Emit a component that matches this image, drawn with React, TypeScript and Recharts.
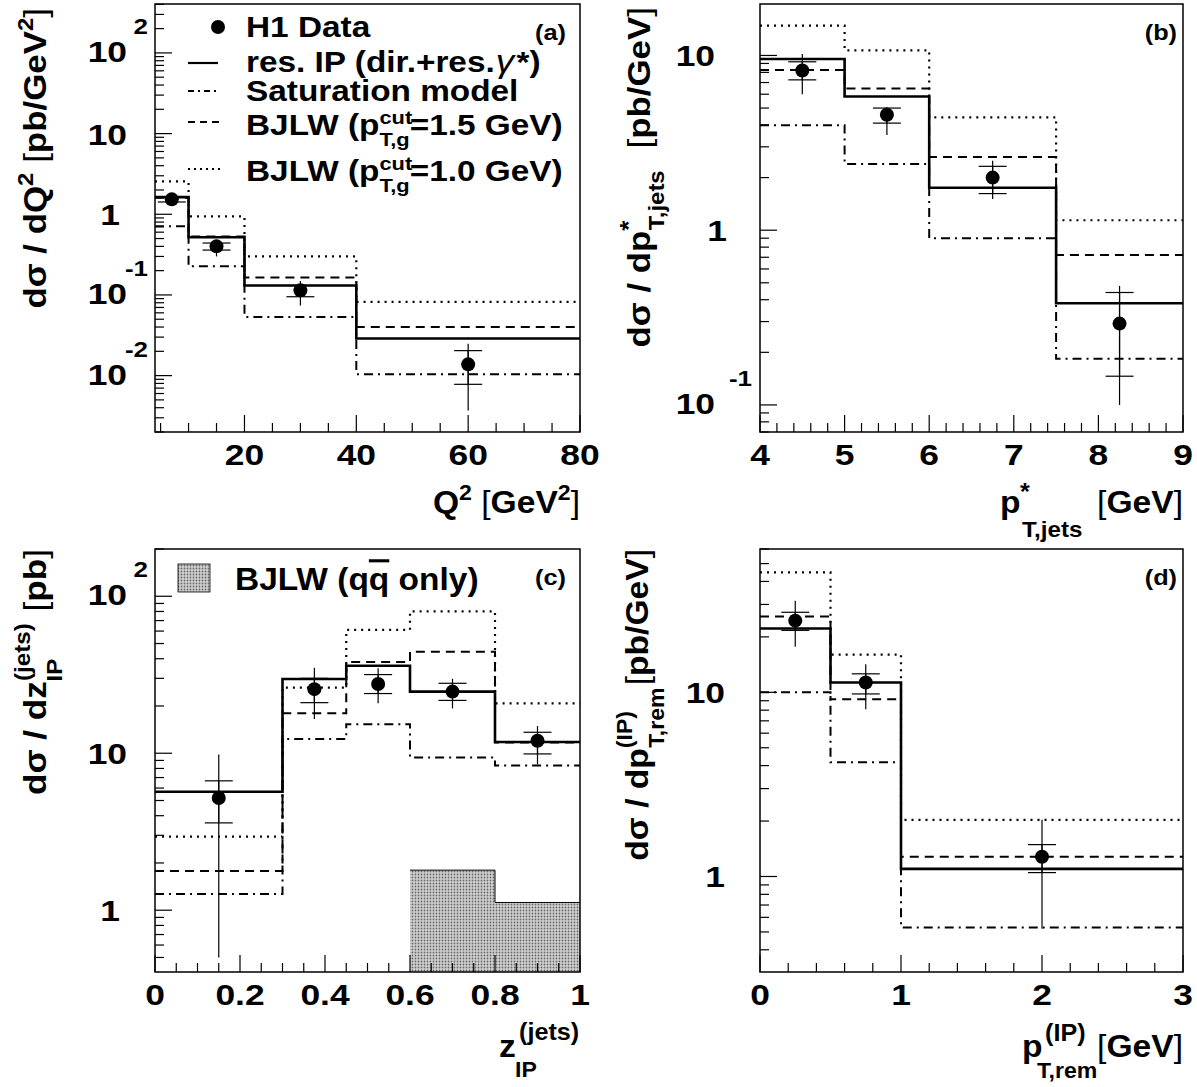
import { Area, ComposedChart, ErrorBar, Line, ReferenceArea, Scatter, XAxis, YAxis } from "recharts";

const FONT = '"Liberation Sans", Arial, Helvetica, sans-serif';

// ---- (a) dsigma / dQ^2 ----
const q2Edges = [4, 10, 20, 40, 80];
const q2ResIP = [1.63, 0.52, 0.131, 0.0288];
const q2Sat = [0.71, 0.226, 0.0534, 0.0104];
const q2Bjlw15 = [1.6, 0.53, 0.165, 0.04];
const q2Bjlw10 = [2.55, 0.94, 0.3, 0.082];
const q2X = [7, 15, 30, 60];
const q2Y = [1.53, 0.4, 0.114, 0.0138];
const q2StatLo = [1.42, 0.36, 0.095, 0.0078];
const q2StatHi = [1.65, 0.44, 0.131, 0.0204];
const q2TotLo = [1.27, 0.3, 0.074, 0.0037];
const q2TotHi = [1.8, 0.47, 0.149, 0.0248];

// ---- (b) dsigma / dp*T,jets ----
const ptEdges = [4, 5, 6, 7.5, 9];
const ptResIP = [9.55, 5.82, 1.75, 0.382];
const ptSat = [3.99, 2.39, 0.9, 0.184];
const ptBjlw15 = [8.25, 6.46, 2.62, 0.72];
const ptBjlw10 = [14.8, 10.7, 4.42, 1.14];
const ptX = [4.5, 5.5, 6.75, 8.25];
const ptY = [8.2, 4.58, 2.0, 0.292];
const ptStatLo = [7.25, 4.1, 1.62, 0.146];
const ptStatHi = [9.2, 5.0, 2.32, 0.44];
const ptTotLo = [6.0, 3.51, 1.51, 0.1];
const ptTotHi = [10.2, 5.06, 2.5, 0.48];

// ---- (c) dsigma / dz_IP ----
const zEdges = [0, 0.3, 0.45, 0.6, 0.8, 1.0];
const zResIP = [5.69, 29.7, 36.1, 24.7, 11.8];
const zSat = [1.27, 12.3, 15.3, 9.4, 8.36];
const zBjlw15 = [1.78, 18.0, 38.1, 44.3, 11.7];
const zBjlw10 = [2.94, 26.2, 61.1, 80.2, 20.8];
const zQQbar = [null, null, null, 1.8, 1.12];
const zX = [0.15, 0.375, 0.525, 0.7, 0.9];
const zY = [5.19, 25.6, 27.6, 24.7, 12.0];
const zStatLo = [3.6, 21, 24.0, 21.7, 9.9];
const zStatHi = [6.67, 30, 31.7, 27.9, 13.6];
const zTotLo = [0.5, 16.5, 20.8, 19.3, 8.5];
const zTotHi = [9.8, 35, 34.8, 29.8, 14.9];

// ---- (d) dsigma / dpT,rem ----
const remEdges = [0, 0.5, 1, 3];
const remResIP = [22.2, 11.3, 1.1];
const remSat = [10.0, 4.17, 0.528];
const remBjlw15 = [25.8, 9.16, 1.28];
const remBjlw10 = [44.8, 16.0, 2.03];
const remX = [0.25, 0.75, 2];
const remY = [24.5, 11.3, 1.28];
const remStatLo = [21.7, 9.8, 1.05];
const remStatHi = [27.2, 12.6, 1.49];
const remTotLo = [17.7, 8.1, 0.52];
const remTotHi = [31.4, 14.2, 2.03];

// histogram rows: one row per bin edge, last edge repeats the last bin
function histRows(edges: number[], series: Record<string, (number | null)[]>) {
  return edges.map((x, i) => {
    const row: any = { x };
    for (const k in series) {
      const v = series[k][Math.min(i, edges.length - 2)];
      row[k] = v == null ? undefined : v;
    }
    return row;
  });
}

function pointRows(x: number[], y: number[], sLo: number[], sHi: number[], tLo: number[], tHi: number[]) {
  return x.map((xx, i) => ({
    x: xx,
    y: y[i],
    stat: [y[i] - sLo[i], sHi[i] - y[i]],
    tot: [y[i] - tLo[i], tHi[i] - y[i]],
  }));
}

function logTicks(lo: number, hi: number) {
  const t: number[] = [];
  for (let e = -4; e <= 3; e++)
    for (let m = 1; m <= 9; m++) {
      const v = Number((m * Math.pow(10, e)).toPrecision(6));
      if (v >= lo && v <= hi) t.push(v);
    }
  return t;
}

function linTicks(lo: number, hi: number, step: number) {
  const t: number[] = [];
  const n = Math.round((hi - lo) / step);
  for (let i = 0; i <= n; i++) t.push(Math.round((lo + i * step) * 1000) / 1000);
  return t;
}

// ROOT's Helvetica-bold is wider than Liberation Sans, so texts get stretched along their run
function ST(props: any) {
  const { x, y, sx = 1.15, rot, anchor = "start", size = 30, children, weight = "bold" } = props;
  const tf = `translate(${x},${y})${rot ? " rotate(-90)" : ""} scale(${sx},1)`;
  return (
    <text transform={tf} x={0} y={0} textAnchor={anchor} fontFamily={FONT} fontWeight={weight} fontSize={size} fill="#000">
      {children}
    </text>
  );
}

function XTick(props: any) {
  const { x, y, payload, majors } = props;
  const v = payload.value as number;
  const major = majors.some((m: number) => Math.abs(m - v) < 1e-9);
  return (
    <g>
      <line x1={x} x2={x} y1={y} y2={y - (major ? 17 : 9)} stroke="#000" strokeWidth={1.2} />
      {major && (
        <ST x={x} y={y + 33} anchor="middle" size={30} sx={1.18}>
          {String(Math.round(v * 100) / 100)}
        </ST>
      )}
    </g>
  );
}

function YTick(props: any) {
  const { x, y, payload, cfg } = props;
  const v = payload.value as number;
  const lg = Math.log10(v);
  const e = Math.round(lg);
  const major = Math.abs(lg - e) < 1e-6;
  return (
    <g>
      <line x1={x} x2={x + (major ? 17 : 9)} y1={y} y2={y} stroke="#000" strokeWidth={1.2} />
      {major && e === 0 && <ST x={x - cfg.one} y={y + 11} anchor="end" sx={1.18}>1</ST>}
      {major && e === 1 && <ST x={x - cfg.ten} y={y + 11} anchor="end" sx={1.18}>10</ST>}
      {major && e !== 0 && e !== 1 && (
        <g>
          <ST x={x - cfg.ten} y={y + 9} anchor="end" sx={1.18}>10</ST>
          <ST x={x - cfg.exp} y={y - 19} anchor="end" size={22} sx={1.18}>{String(e)}</ST>
        </g>
      )}
    </g>
  );
}

type PanelProps = {
  left: number; top: number; width: number; height: number;
  yAxisW: number; mTop: number; mRight: number; xAxisH: number;
  xDomain: [number, number]; yDomain: [number, number];
  xTicks: number[]; xMajors: number[];
  yCfg: { ten: number; one: number; exp: number };
  rows: any[]; points: any[]; qq?: boolean;
};

function Panel(p: PanelProps) {
  const pid = "stip" + p.left + "_" + p.top;
  return (
    <div style={{ position: "absolute", left: p.left, top: p.top }}>
      <ComposedChart width={p.width} height={p.height} data={p.rows}
        margin={{ top: p.mTop, right: p.mRight, bottom: 0, left: 0 }}>
        <defs>
          <pattern id={pid} width={3} height={3} patternUnits="userSpaceOnUse">
            <rect width={3} height={3} fill="#d2d2d2" />
            <circle cx={1.5} cy={1.5} r={0.9} fill="#666" />
          </pattern>
        </defs>
        <XAxis dataKey="x" type="number" domain={p.xDomain} allowDataOverflow ticks={p.xTicks} interval={0}
          tickSize={0} tickMargin={0} tickLine={false} axisLine={false} height={p.xAxisH}
          tick={(tp: any) => <XTick {...tp} majors={p.xMajors} />} />
        <YAxis type="number" scale="log" domain={p.yDomain} allowDataOverflow ticks={logTicks(p.yDomain[0], p.yDomain[1])}
          interval={0} tickSize={0} tickMargin={0} tickLine={false} axisLine={false} width={p.yAxisW}
          tick={(tp: any) => <YTick {...tp} cfg={p.yCfg} />} />
        {p.qq && (
          <Area dataKey="qq" type="stepAfter" stroke="#000" strokeWidth={1} fill={`url(#${pid})`}
            fillOpacity={1} baseValue="dataMin" isAnimationActive={false} dot={false} activeDot={false} />
        )}
        <Line dataKey="bjlw10" type="stepAfter" stroke="#000" strokeWidth={2.2} strokeDasharray="2 5"
          dot={false} activeDot={false} isAnimationActive={false} />
        <Line dataKey="sat" type="stepAfter" stroke="#000" strokeWidth={2} strokeDasharray="9 5 2 5"
          dot={false} activeDot={false} isAnimationActive={false} />
        <Line dataKey="bjlw15" type="stepAfter" stroke="#000" strokeWidth={2} strokeDasharray="9 6"
          dot={false} activeDot={false} isAnimationActive={false} />
        <Line dataKey="resIP" type="stepAfter" stroke="#000" strokeWidth={2.6}
          dot={false} activeDot={false} isAnimationActive={false} />
        <Scatter data={p.points} dataKey="y" fill="#000" isAnimationActive={false}
          shape={(sp: any) => <circle cx={sp.cx} cy={sp.cy} r={7} fill="#000" />}>
          <ErrorBar dataKey="tot" direction="y" width={0} stroke="#000" strokeWidth={1.2} />
          <ErrorBar dataKey="stat" direction="y" width={14} stroke="#000" strokeWidth={1.2} />
        </Scatter>
        <ReferenceArea x1={p.xDomain[0]} x2={p.xDomain[1]} y1={p.yDomain[0]} y2={p.yDomain[1]}
          fill="none" fillOpacity={0} stroke="#000" strokeWidth={1.5} ifOverflow="visible" />
      </ComposedChart>
    </div>
  );
}

function Overlay() {
  const cutSub = (val: string) => (
    <>
      BJLW (p<tspan dy={-11} fontSize={19}>cut</tspan>
      <tspan dx={-28.5} dy={22} fontSize={19}>T,g</tspan>
      <tspan dy={-11}>={val} GeV)</tspan>
    </>
  );
  return (
    <svg width={1197} height={1087} style={{ position: "absolute", left: 0, top: 0, pointerEvents: "none" }}>
      <defs>
        <pattern id="legstip" width={3} height={3} patternUnits="userSpaceOnUse">
          <rect width={3} height={3} fill="#d2d2d2" />
          <circle cx={1.5} cy={1.5} r={0.9} fill="#666" />
        </pattern>
      </defs>

      {/* legend (a) */}
      <circle cx={218} cy={27} r={7} fill="#000" />
      <ST x={246} y={37} size={29}>H1 Data</ST>
      <line x1={188} x2={218} y1={63} y2={63} stroke="#000" strokeWidth={2.2} />
      <ST x={246} y={72} size={29}>
        res. IP (dir.+res.<tspan fontWeight="normal" fontStyle="italic" fontSize={32} dx={1}>γ</tspan>
        <tspan dx={2}>*)</tspan>
      </ST>
      <line x1={188} x2={220} y1={91} y2={91} stroke="#000" strokeWidth={2} strokeDasharray="6 4 2 4" />
      <ST x={246} y={101} size={29}>Saturation model</ST>
      <line x1={188} x2={220} y1={122} y2={122} stroke="#000" strokeWidth={2} strokeDasharray="7 5" />
      <ST x={246} y={135} size={29}>{cutSub("1.5")}</ST>
      <line x1={188} x2={220} y1={169} y2={169} stroke="#000" strokeWidth={2} strokeDasharray="2 4" />
      <ST x={246} y={181} size={29}>{cutSub("1.0")}</ST>

      {/* legend (c) */}
      <rect x={178} y={564} width={32} height={28} fill="url(#legstip)" stroke="#000" strokeWidth={0.8} />
      <ST x={235} y={590} size={31} sx={1.08}>
        BJLW (q<tspan style={{ textDecoration: "overline" }}>q</tspan> only)
      </ST>

      {/* panel tags */}
      <ST x={566} y={40} size={22} anchor="end">(a)</ST>
      <ST x={1177} y={40} size={22} anchor="end">(b)</ST>
      <ST x={566} y={585} size={22} anchor="end">(c)</ST>
      <ST x={1177} y={585} size={22} anchor="end">(d)</ST>

      {/* axis titles (a) */}
      <ST x={580} y={513} size={32} anchor="end" sx={1.05}>
        Q<tspan dy={-13} fontSize={22}>2</tspan><tspan dy={13}> </tspan>
        <tspan fontWeight="normal">[</tspan>GeV<tspan dy={-13} fontSize={22}>2</tspan>
        <tspan dy={13} fontWeight="normal">]</tspan>
      </ST>
      <ST x={46} y={8} rot size={32} anchor="end" sx={1.09}>
        dσ / dQ<tspan dy={-13} fontSize={22}>2</tspan><tspan dy={13}> </tspan>
        <tspan fontWeight="normal">[</tspan>pb/GeV<tspan dy={-13} fontSize={22}>2</tspan>
        <tspan dy={13} fontWeight="normal">]</tspan>
      </ST>

      {/* axis titles (b) */}
      <ST x={1000} y={513} size={32} sx={1.05}>p</ST>
      <ST x={1020} y={500} size={24} sx={1.05}>*</ST>
      <ST x={1022} y={537} size={22} sx={1.1}>T,jets</ST>
      <ST x={1183} y={513} size={32} anchor="end" sx={1.05}>
        <tspan fontWeight="normal">[</tspan>GeV<tspan fontWeight="normal">]</tspan>
      </ST>
      <ST x={650} y={7} rot size={32} anchor="end" sx={1.09}>
        dσ / dp<tspan dy={-13} fontSize={24}>*</tspan>
        <tspan dx={-9} dy={27} fontSize={22}>T,jets</tspan>
        <tspan dx={20} dy={-14} fontWeight="normal">[</tspan>pb/GeV<tspan fontWeight="normal">]</tspan>
      </ST>

      {/* axis titles (c) */}
      <ST x={499} y={1057} size={32} sx={1.05}>z</ST>
      <ST x={519} y={1040} size={24} sx={1.05}>(jets)</ST>
      <ST x={515} y={1077} size={22} sx={1.05}>IP</ST>
      <ST x={46} y={549} rot size={32} anchor="end" sx={1.1}>
        dσ / dz<tspan dy={-16} fontSize={22}>(jets)</tspan>
        <tspan dx={-53} dy={32} fontSize={22}>IP</tspan>
        <tspan dx={34} dy={-16}> </tspan><tspan fontWeight="normal">[</tspan>pb<tspan fontWeight="normal">]</tspan>
      </ST>

      {/* axis titles (d) */}
      <ST x={1022} y={1057} size={32} sx={1.05}>p</ST>
      <ST x={1045} y={1041} size={24} sx={1.05}>(IP)</ST>
      <ST x={1037} y={1078} size={22} sx={1.05}>T,rem</ST>
      <ST x={1183} y={1057} size={32} anchor="end" sx={1.05}>
        <tspan fontWeight="normal">[</tspan>GeV<tspan fontWeight="normal">]</tspan>
      </ST>
      <ST x={648} y={549} rot size={32} anchor="end" sx={1.05}>
        dσ / dp<tspan dy={-16} fontSize={22}>(IP)</tspan>
        <tspan dx={-35} dy={32} fontSize={22}>T,rem</tspan>
        <tspan dx={2} dy={-16} fontWeight="normal">[</tspan>pb/GeV<tspan fontWeight="normal">]</tspan>
      </ST>
    </svg>
  );
}

export default function App() {
  const rowsA = histRows(q2Edges, { resIP: q2ResIP, sat: q2Sat, bjlw15: q2Bjlw15, bjlw10: q2Bjlw10 });
  const rowsB = histRows(ptEdges, { resIP: ptResIP, sat: ptSat, bjlw15: ptBjlw15, bjlw10: ptBjlw10 });
  const rowsC = histRows(zEdges, { resIP: zResIP, sat: zSat, bjlw15: zBjlw15, bjlw10: zBjlw10, qq: zQQbar });
  const rowsD = histRows(remEdges, { resIP: remResIP, sat: remSat, bjlw15: remBjlw15, bjlw10: remBjlw10 });

  return (
    <div style={{ position: "absolute", left: 0, top: 0, width: 1197, height: 1087, background: "#fff" }}>
      <Panel left={0} top={0} width={600} height={540} yAxisW={155} mTop={4} mRight={20} xAxisH={108}
        xDomain={[4, 80]} yDomain={[0.002, 404]} xTicks={linTicks(5, 80, 5)} xMajors={[20, 40, 60, 80]}
        yCfg={{ ten: 28, one: 35, exp: 7 }} rows={rowsA}
        points={pointRows(q2X, q2Y, q2StatLo, q2StatHi, q2TotLo, q2TotHi)} />
      <Panel left={600} top={0} width={597} height={540} yAxisW={160} mTop={4} mRight={14} xAxisH={108}
        xDomain={[4, 9]} yDomain={[0.07, 19.7]} xTicks={linTicks(4, 9, 0.2)} xMajors={[4, 5, 6, 7, 8, 9]}
        yCfg={{ ten: 45, one: 33, exp: 8 }} rows={rowsB}
        points={pointRows(ptX, ptY, ptStatLo, ptStatHi, ptTotLo, ptTotHi)} />
      <Panel left={0} top={540} width={600} height={547} yAxisW={155} mTop={9} mRight={20} xAxisH={115}
        xDomain={[0, 1]} yDomain={[0.404, 200]} xTicks={linTicks(0, 1, 0.05)} xMajors={[0, 0.2, 0.4, 0.6, 0.8, 1]}
        yCfg={{ ten: 28, one: 35, exp: 7 }} rows={rowsC} qq
        points={pointRows(zX, zY, zStatLo, zStatHi, zTotLo, zTotHi)} />
      <Panel left={600} top={540} width={597} height={547} yAxisW={160} mTop={9} mRight={14} xAxisH={115}
        xDomain={[0, 3]} yDomain={[0.303, 60]} xTicks={linTicks(0, 3, 0.2)} xMajors={[0, 1, 2, 3]}
        yCfg={{ ten: 35, one: 35, exp: 8 }} rows={rowsD}
        points={pointRows(remX, remY, remStatLo, remStatHi, remTotLo, remTotHi)} />
      <Overlay />
    </div>
  );
}
